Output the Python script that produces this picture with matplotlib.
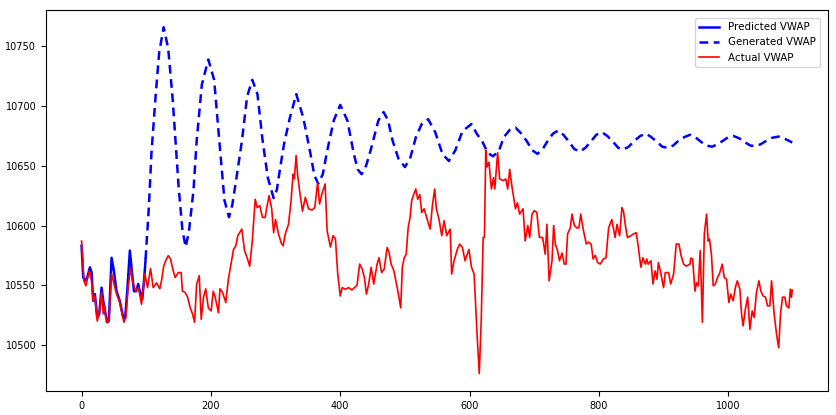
"""
VWAP: predicted / generated vs actual
"""
import matplotlib
matplotlib.use("Agg")
import matplotlib.pyplot as plt

# predicted (teacher forced) part
pred_x = [0, 2.6, 5, 8.8, 12.9, 15.5, 18, 20.6, 24.2, 27.3, 30.9, 33.5, 36, 39.7, 42.2,
          46.4, 50, 54, 59, 64.4, 67.5, 70.6, 74.7, 78.3, 81, 84.5, 87.6, 90, 93.8, 97, 99]
pred_y = [10583, 10556.5, 10553.7, 10556.5, 10565, 10560.6, 10537, 10542.5, 10523, 10525.8,
          10548, 10537, 10528.5, 10519, 10520, 10573, 10562, 10545, 10537, 10523, 10523,
          10545, 10579, 10559, 10545, 10545, 10551, 10545, 10538, 10556.5, 10572]

# generated (free running) part
gen_x = [99, 104, 108, 114, 120, 127, 134, 141, 150, 156, 161, 166, 173, 178, 186, 196,
         205, 213, 221, 228, 233, 239, 248, 256, 264, 272, 280, 288, 297, 302, 307, 313,
         322, 332, 343, 354, 360, 366, 373, 380, 390, 400, 411, 421, 427, 433, 440, 447,
         459, 467, 474, 481, 490, 500, 508, 517, 526, 536, 547, 558, 568, 578, 589, 603,
         611, 620, 628, 636, 645, 653, 662, 671, 680, 688, 697, 705, 713, 721, 729, 737,
         745, 754, 762, 771, 779, 787, 796, 805, 813, 822, 830, 838, 846, 855, 864, 873,
         881, 890, 898, 906, 915, 923, 932, 941, 949, 958, 966, 975, 983, 992, 1000, 1008,
         1017, 1025, 1034, 1042, 1050, 1059, 1068, 1078, 1088, 1099]
gen_y = [10572, 10615, 10660, 10705, 10745, 10766, 10748, 10705, 10633, 10596, 10582, 10595,
         10629, 10671, 10718, 10739, 10722, 10671, 10621, 10607, 10617, 10638, 10671, 10708,
         10722, 10710, 10671, 10640, 10623, 10630, 10648, 10668, 10690, 10710, 10690, 10660,
         10642, 10635, 10643, 10663, 10688, 10701, 10688, 10660, 10647, 10643, 10650, 10663,
         10688, 10695, 10688, 10671, 10656, 10649, 10656, 10674, 10685, 10689, 10678, 10660,
         10654, 10663, 10679, 10685, 10677, 10670, 10661, 10658, 10662, 10674, 10680, 10682,
         10677, 10671, 10663, 10660, 10664, 10671, 10677, 10679.5, 10676, 10670, 10664, 10662,
         10665, 10670, 10676, 10678, 10675, 10670, 10665, 10663.6, 10666, 10671, 10675, 10677,
         10674, 10670, 10666, 10665, 10667, 10671, 10674, 10676, 10674, 10670, 10667, 10666,
         10668, 10671, 10674, 10675, 10673, 10670, 10667, 10666.5, 10668, 10671, 10673.5,
         10674.5, 10672.5, 10669.5]

# actual VWAP
act_x = [0, 3.6, 6.7, 11.9, 15.5, 18, 20.6, 24.2, 28.3, 30.9, 33.5, 36, 38.6, 42.2, 46.4,
         50, 54, 59, 65.4, 68.5, 72, 75.7, 79.8, 84, 88, 92.7, 97.9, 102, 106.6, 110.8, 116,
         121, 123.6, 127, 130, 134, 137.6, 141.7, 144.8, 149.4, 154, 156, 160, 164, 168,
         171.6, 174.7, 178, 182, 185, 188.6, 192, 196, 200.4, 203.6, 206.6, 211.7, 214, 218,
         223, 227, 231, 235, 238.5, 241.6, 247.8, 252, 256, 260, 264, 268.5, 271.6, 275.6,
         279.8, 284, 286.4, 290, 294, 297, 300, 304.5, 309, 311.7, 315, 320, 324, 327, 329,
         331.8, 334, 337.4, 341.6, 346, 351, 356.5, 360.6, 365, 368, 371.4, 376.6, 379.7,
         384.8, 389, 392.6, 396, 400, 403, 408, 413, 418, 426, 430, 434, 437.4, 440.5, 444,
         447.8, 451.8, 457, 460, 464, 468, 472.5, 475.6, 478.7, 483, 487, 490, 493.5, 496,
         499, 502, 505, 508, 510.5, 513, 516.8, 519.8, 523, 526, 529.7, 533.7, 539, 542.5,
         546, 548.7, 552.8, 557, 560.6, 564.7, 570, 572.3, 576, 581, 584.7, 589, 593, 599,
         603, 607, 611.6, 615, 618, 621, 623, 625, 627, 630, 633.7, 637, 639, 643.4, 646.5,
         652, 656, 659, 662, 665.7, 671, 674, 677.4, 682.7, 686, 690, 693, 696.6, 700, 704,
         708, 713, 717, 719.6, 723, 727.5, 730, 732.6, 736, 739, 743, 746.5, 749, 751.6,
         755.8, 758.4, 762, 766, 769, 772, 775.3, 780.5, 784, 788, 791, 794.4, 798, 802,
         807, 811, 815, 820, 825, 828, 832, 835.6, 838, 841, 844, 849.6, 853.7, 857.8, 861,
         865, 868, 871.7, 874, 876, 880.5, 883.6, 887, 889.8, 892, 895, 900, 902.6, 907.8,
         911, 915.5, 919.6, 923.8, 927, 931, 935, 941, 942, 945, 948.5, 951, 953.6, 956.7,
         960, 963, 966.5, 969, 971, 974, 976.8, 980, 983.5, 987, 990.7, 993.8, 997.4, 1001,
         1004, 1007.7, 1011, 1014, 1018, 1020.6, 1023, 1026.8, 1030, 1033.5, 1037, 1040,
         1043.7, 1047.4, 1050.5, 1054, 1057.6, 1060.8, 1064.4, 1067, 1071, 1074.7, 1078,
         1081, 1084, 1087.6, 1090, 1093.7, 1096, 1097.8, 1099]
act_y = [10587, 10553.7, 10549.5, 10562, 10553.7, 10537, 10541, 10520, 10530, 10544, 10526,
         10533, 10519, 10520, 10559.6, 10551, 10543, 10535.5, 10519, 10523, 10548, 10564,
         10551, 10545, 10548, 10534, 10559.6, 10548, 10564, 10548, 10552, 10547, 10553.7,
         10566, 10570.5, 10574.7, 10572, 10562, 10556.5, 10560.6, 10560.6, 10545, 10544,
         10540, 10531, 10526, 10519, 10551, 10558, 10521.5, 10540, 10547, 10531, 10528.5,
         10545, 10540, 10527, 10547, 10544, 10535.5, 10555, 10567.7, 10580, 10583, 10591.5,
         10597, 10579, 10573, 10566, 10587, 10622, 10615, 10616.6, 10606.8, 10606.8, 10615,
         10625, 10614, 10594, 10605, 10593, 10585, 10583, 10593, 10601, 10621, 10643, 10639,
         10658.6, 10643, 10628, 10612, 10623.6, 10614, 10613, 10615, 10636, 10618, 10626,
         10634.8, 10595.6, 10582, 10591.5, 10588.7, 10560.6, 10541, 10548, 10546.7, 10548,
         10546, 10550, 10567.7, 10563.5, 10556.5, 10542.5, 10551, 10565, 10551, 10567.7,
         10573, 10560.6, 10563.5, 10581.6, 10577.4, 10567.7, 10562, 10551, 10542.5, 10531,
         10565, 10573, 10576, 10598, 10606.8, 10621, 10625, 10630.6, 10622, 10626, 10611,
         10614, 10606.8, 10597, 10616.6, 10630.6, 10614, 10605, 10591.5, 10604, 10591.5,
         10597, 10559.3, 10570.5, 10580, 10584.5, 10581.6, 10570.5, 10580, 10565, 10559.3,
         10509, 10476, 10520, 10590, 10590, 10663, 10649, 10653, 10630.6, 10640, 10630.6,
         10661, 10639, 10637.6, 10639, 10630.6, 10647, 10632, 10614, 10619, 10609.6, 10614,
         10587, 10600, 10590, 10609.6, 10612.4, 10611, 10590, 10590, 10576, 10601, 10553.7,
         10570.5, 10600, 10584.5, 10579, 10570.5, 10577, 10567.7, 10567.7, 10593, 10598,
         10609.6, 10600, 10598, 10598, 10609.6, 10598, 10584.5, 10586, 10584.5, 10572, 10575,
         10569, 10567.7, 10572, 10573, 10598, 10605, 10590, 10601, 10591.5, 10615, 10612,
         10600, 10590, 10591.5, 10593, 10594, 10581.6, 10565, 10573, 10567.7, 10572, 10567.7,
         10570.5, 10551, 10562, 10555, 10569, 10562, 10548, 10560.6, 10560.6, 10551, 10559.3,
         10584.5, 10584.5, 10575, 10567.7, 10566, 10567.7, 10572.7, 10572, 10545, 10552,
         10549.5, 10579, 10519, 10593, 10609.6, 10587, 10588.7, 10576, 10549.5, 10551,
         10556.5, 10560.6, 10567.7, 10556.5, 10555, 10535.5, 10542.5, 10537, 10548, 10553.7,
         10546.7, 10525.8, 10516, 10531, 10540, 10513, 10528.5, 10523, 10544, 10553.7, 10545,
         10541, 10540, 10532.7, 10532.7, 10553.7, 10525.8, 10509, 10497.7, 10527, 10540,
         10540, 10532.7, 10531, 10546.7, 10540, 10546]

plt.rcParams['font.size'] = 7

fig = plt.figure(figsize=(8.37, 4.15), dpi=100)
ax = fig.add_axes([0.055, 0.058, 0.934, 0.918])

ax.plot(pred_x, pred_y, color='blue', lw=1.8, label='Predicted VWAP')
ax.plot(gen_x, gen_y, color='blue', lw=1.8, ls='--', dashes=(3.5, 2.2), label='Generated VWAP')
ax.plot(act_x, act_y, color='red', lw=1.2, label='Actual VWAP')

ax.tick_params(labelsize=7)
ax.legend(loc='upper right', fontsize=7.4, borderaxespad=0.8)

fig.savefig('out.png', dpi=100)
